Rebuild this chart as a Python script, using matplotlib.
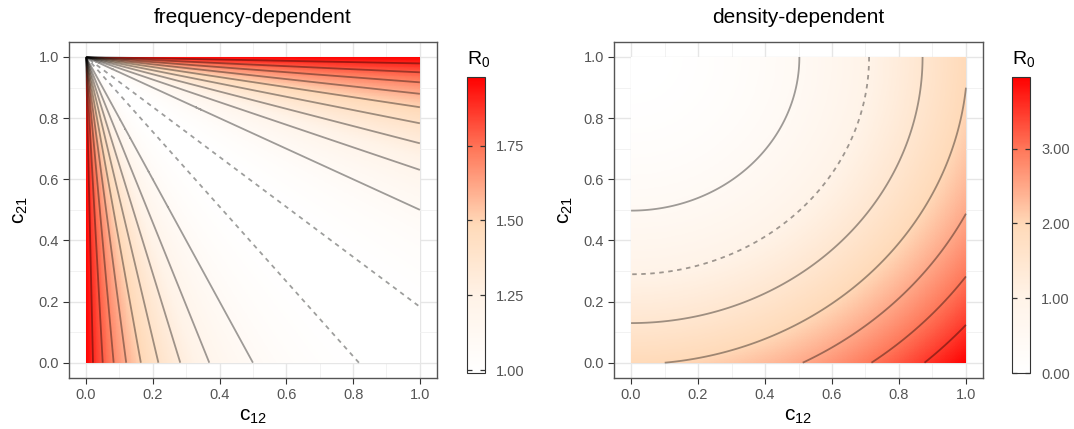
import numpy as np
import matplotlib
matplotlib.use("Agg")
import matplotlib.pyplot as plt
from matplotlib.colors import LinearSegmentedColormap, Normalize

plt.rcParams['font.family'] = ['Liberation Sans', 'DejaVu Sans']
plt.rcParams['mathtext.fontset'] = 'custom'
plt.rcParams['mathtext.rm'] = 'Liberation Sans'
plt.rcParams['mathtext.it'] = 'Liberation Sans'

# axis values
c12 = np.linspace(0, 1, 401)
c21 = np.linspace(0, 1, 401)
axis_ticks = [0.0, 0.2, 0.4, 0.6, 0.8, 1.0]
minor_ticks = [0.1, 0.3, 0.5, 0.7, 0.9]

# contour levels (dashed one is R0 = 1)
freq_levels = [1.1, 1.2, 1.3, 1.4, 1.5, 1.6, 1.7, 1.8, 1.9]
dens_levels = [0.5, 1.5, 2.0, 2.5, 3.0, 3.5]
threshold = [1.0]

freq_cbar_ticks = [1.00, 1.25, 1.50, 1.75]
dens_cbar_ticks = [0.00, 1.00, 2.00, 3.00]
freq_range = (0.99, 1.98)
dens_range = (0.0, 3.96)

titles = ['frequency-dependent', 'density-dependent']

# R0 surfaces of the model
A, C = np.meshgrid(c12, c21)
B = 1 - C
with np.errstate(invalid='ignore', divide='ignore'):
    R0_freq = 0.99 * 2 * (A**2 + B**2) / (A + B)**2
R0_freq[np.isnan(R0_freq)] = freq_range[1]
R0_dens = 1.98 * (A**2 + B**2)

cmap = LinearSegmentedColormap.from_list(
    'wpr', ['#FFFFFF', '#FFF3E8', '#FFDAB9', '#FF7A5C', '#FF0000'])

fig = plt.figure(figsize=(10.74, 4.29), dpi=100)
ax_pos = [[0.0645, 0.1189, 0.342, 0.7839], [0.572, 0.1189, 0.343, 0.7839]]
cb_pos = [[0.4345, 0.1305, 0.017, 0.6907], [0.942, 0.1305, 0.017, 0.6907]]

panels = [(R0_freq, freq_levels, freq_range, freq_cbar_ticks),
          (R0_dens, dens_levels, dens_range, dens_cbar_ticks)]

for i, (Z, levels, rng, cticks) in enumerate(panels):
    ax = fig.add_axes(ax_pos[i])
    ax.set_axisbelow(True)
    norm = Normalize(vmin=rng[0], vmax=rng[1])
    mesh = ax.pcolormesh(c12, c21, Z, cmap=cmap, norm=norm, shading='nearest',
                         zorder=1, rasterized=True)
    ax.contour(c12, c21, Z, levels=levels, colors='black', alpha=0.38,
               linewidths=1.3, zorder=2)
    ax.contour(c12, c21, Z, levels=threshold, colors='black', alpha=0.38,
               linewidths=1.3, linestyles=[(0, (2.5, 2.5))], zorder=2)
    ax.set_xlim(-0.05, 1.05)
    ax.set_ylim(-0.05, 1.05)
    ax.set_xticks(axis_ticks)
    ax.set_yticks(axis_ticks)
    ax.set_xticks(minor_ticks, minor=True)
    ax.set_yticks(minor_ticks, minor=True)
    ax.set_xticklabels(['%.1f' % t for t in axis_ticks])
    ax.set_yticklabels(['%.1f' % t for t in axis_ticks])
    ax.grid(which='major', color='#e6e6e6', linewidth=1.0)
    ax.grid(which='minor', color='#f0f0f0', linewidth=0.6)
    ax.tick_params(which='major', length=4, color='#333333', labelsize=10.5,
                   labelcolor='#555555', width=0.8)
    ax.tick_params(which='minor', length=0)
    for sp in ax.spines.values():
        sp.set_color('#555555')
        sp.set_linewidth(1.0)
        sp.set_zorder(3)
    ax.set_xlabel(r'$\mathrm{c}_{12}$', fontsize=15, labelpad=3)
    ax.set_ylabel(r'$\mathrm{c}_{21}$', fontsize=15, labelpad=6)
    ax.text(0.5, 1.045, titles[i], transform=ax.transAxes, ha='center',
            va='bottom', fontsize=15)

    cax = fig.add_axes(cb_pos[i])
    cb = fig.colorbar(mesh, cax=cax, ticks=cticks)
    cb.ax.set_yticklabels(['%.2f' % t for t in cticks])
    cb.ax.tick_params(direction='in', left=True, right=True, length=3.5,
                      width=0.9, color='#333333', labelsize=10.5,
                      labelcolor='#555555', pad=8)
    cb.outline.set_edgecolor('#333333')
    cb.outline.set_linewidth(0.8)
    cb.ax.set_title(r'$\mathrm{R}_0$', fontsize=14, pad=9, loc='left')

fig.savefig('out.png', dpi=100)
